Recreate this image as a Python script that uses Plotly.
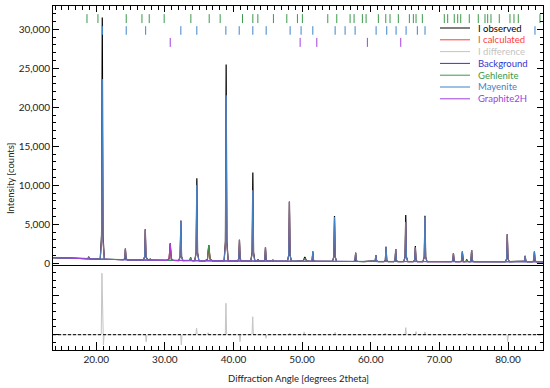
import numpy as np
import plotly.graph_objects as go

# ---------------- data ----------------
x_range = [13.7, 85.1]

# background knots (2theta, counts)
bg_x = [13.7, 16.0, 20.0, 25.0, 30.0, 35.5, 39.5, 49.0, 59.0, 70.0, 81.0, 85.1]
bg_y = [720, 640, 540, 440, 370, 320, 290, 250, 225, 210, 200, 195]

# diffraction peaks: position, observed top, calculated top, phase, half base width
peak_pos = [18.90, 20.88, 24.25, 27.15, 27.86, 30.78, 32.33, 33.75, 34.66, 36.40,
            38.93, 40.87, 42.82, 43.60, 44.66, 45.75, 48.15, 50.40, 51.56, 54.72,
            57.80, 60.75, 62.23, 63.64, 65.10, 66.50, 67.90, 72.05, 73.35, 74.00,
            74.70, 79.90, 82.50, 83.85]
peak_obs = [850, 31500, 1900, 4350, 550, 2550, 5450, 750, 10900, 2350,
            25500, 3000, 11650, 520, 2050, 420, 7900, 800, 1500, 6050,
            1350, 1050, 2130, 1830, 6200, 2220, 6100, 1280, 1490, 450,
            1700, 3720, 940, 1490]
peak_calc = [800, 23600, 1850, 4350, 520, 2500, 5450, 720, 10000, 2300,
             21500, 3000, 9350, 500, 2050, 400, 7900, 650, 1500, 5900,
             1350, 1050, 2100, 1800, 5300, 2000, 5900, 1280, 1490, 400,
             1700, 3720, 940, 1490]
peak_phase = ["G", "M", "M", "M", "G", "C", "M", "G", "M", "G",
              "M", "M", "M", "G", "M", "G", "M", "G", "M", "M",
              "M", "M", "M", "M", "M", "M", "M", "M", "M", "G",
              "M", "M", "M", "M"]
peak_w = [0.3, 0.3, 0.3, 0.3, 0.3, 0.45, 0.3, 0.3, 0.3, 0.55,
          0.3, 0.3, 0.3, 0.3, 0.3, 0.3, 0.3, 0.7, 0.3, 0.3,
          0.3, 0.3, 0.3, 0.3, 0.3, 0.3, 0.3, 0.3, 0.3, 0.5,
          0.3, 0.3, 0.3, 0.3]

# difference curve features (position, obs - calc)
diff_pos = [20.83, 21.05, 27.28, 32.40, 34.62, 36.30, 38.90, 40.95, 42.80, 44.75,
            48.20, 50.30, 54.80, 62.10, 65.10, 66.60, 67.90, 74.00, 79.95]
diff_val = [7870, -1300, -900, -1300, 850, 250, 4030, -900, 2300, -450,
            200, 350, 300, 200, 900, 400, 350, 200, -900]

# Bragg reflection positions
gehlenite_ticks = [18.65, 20.25, 24.37, 26.66, 27.72, 29.90, 33.79, 36.46, 38.06, 41.31,
                   42.82, 43.55, 45.82, 47.77, 49.32, 50.04, 53.74, 55.05, 56.99, 57.57,
                   58.78, 59.32, 61.11, 62.19, 62.81, 64.02, 65.63, 66.21, 66.60, 67.52,
                   70.72, 71.21, 72.17, 72.67, 73.11, 74.36, 75.67, 76.65, 77.04, 77.52,
                   78.73, 80.29, 80.87, 81.50, 84.66]
mayenite_ticks = [20.92, 24.37, 27.20, 32.33, 34.66, 38.89, 40.83, 42.82, 44.76, 48.25,
                  49.85, 51.56, 54.81, 56.26, 57.72, 60.78, 62.33, 63.69, 65.15, 66.79,
                  67.91, 83.93]
graphite_ticks = [30.78, 49.71, 52.14, 59.51, 64.37]

# ---------------- build curves ----------------
def bgv(x):
    return float(np.interp(x, bg_x, bg_y))

def profile(heights, phases=None):
    pts = []
    sel = [i for i in range(len(peak_pos)) if phases is None or peak_phase[i] in phases]
    for xk, yk in zip(bg_x, bg_y):
        if not any(abs(xk - peak_pos[i]) < peak_w[i] for i in sel):
            pts.append((xk, yk))
    for i in sel:
        p, h, w = peak_pos[i], heights[i], peak_w[i]
        bl, br, bc = bgv(p - w), bgv(p + w), bgv(p)
        pts += [(p - w, bl), (p - 0.35 * w, bc + 0.1 * (h - bc)), (p, h),
                (p + 0.35 * w, bc + 0.1 * (h - bc)), (p + w, br)]
    pts.sort(key=lambda t: t[0])
    return [t[0] for t in pts], [t[1] for t in pts]

def tick_trace(pos, y0, y1):
    xs, ys = [], []
    for p in pos:
        xs += [p, p, None]
        ys += [y0, y1, None]
    return xs, ys

C_OBS = "#000000"
C_CALC = "#ff3b3b"
C_DIFF = "#c4c4c4"
C_BG = "#3434d4"
C_GEH = "#3a9a4a"
C_MAY = "#3f84c8"
C_GRA = "#a040e0"

fig = go.Figure()
ox, oy = profile(peak_obs)
fig.add_trace(go.Scatter(x=ox, y=oy, mode="lines", line=dict(color=C_OBS, width=1.2),
                         xaxis="x2", yaxis="y2", name="I observed"))
cx, cy = profile(peak_calc)
fig.add_trace(go.Scatter(x=cx, y=cy, mode="lines", line=dict(color=C_CALC, width=1),
                         xaxis="x2", yaxis="y2", name="I calculated"))
fig.add_trace(go.Scatter(x=bg_x, y=bg_y, mode="lines", line=dict(color=C_BG, width=1),
                         xaxis="x2", yaxis="y2", name="Background"))
for ph, col, nm in [("M", C_MAY, "Mayenite"), ("G", C_GEH, "Gehlenite"), ("C", C_GRA, "Graphite2H")]:
    px_, py_ = profile(peak_calc, [ph])
    fig.add_trace(go.Scatter(x=px_, y=py_, mode="lines", line=dict(color=col, width=1),
                             xaxis="x2", yaxis="y2", name=nm))

for pos, col, y0, y1 in [(gehlenite_ticks, C_GEH, 30800, 31950),
                         (mayenite_ticks, C_MAY, 29300, 30400),
                         (graphite_ticks, C_GRA, 27750, 28900)]:
    tx, ty = tick_trace(pos, y0, y1)
    fig.add_trace(go.Scatter(x=tx, y=ty, mode="lines", line=dict(color=col, width=1),
                             xaxis="x2", yaxis="y2", hoverinfo="skip"))

# difference panel
dx, dy = [x_range[0]], [0]
for p, v in zip(diff_pos, diff_val):
    dx += [p - 0.1, p, p + 0.1]
    dy += [0, v, 0]
dx.append(x_range[1]); dy.append(0)
fig.add_trace(go.Scatter(x=dx, y=dy, mode="lines", line=dict(color=C_DIFF, width=1),
                         xaxis="x", yaxis="y", name="I difference"))
fig.add_trace(go.Scatter(x=x_range, y=[0, 0], mode="lines",
                         line=dict(color="#000000", width=1, dash="3px,2px"),
                         xaxis="x", yaxis="y", hoverinfo="skip"))

FONT = "Lato"
axis_common = dict(showline=True, linecolor="black", linewidth=1, showgrid=False,
                   zeroline=False, ticks="inside", tickcolor="black", automargin=False)

fig.update_layout(
    width=550, height=388, margin=dict(l=53, r=7, t=6, b=38),
    paper_bgcolor="white", plot_bgcolor="white", showlegend=False,
    font=dict(family=FONT, size=10, color="#222222"),
    xaxis=dict(domain=[0, 1], range=x_range, anchor="y", dtick=10, tick0=0, ticklen=8,
               tickformat=".2f", mirror=True,
               minor=dict(dtick=1, tick0=0, ticklen=4, ticks="inside", tickcolor="black"),
               **axis_common),
    xaxis2=dict(domain=[0, 1], range=x_range, anchor="y2", matches="x", side="top",
                dtick=10, tick0=0, ticklen=6, showticklabels=False, mirror=True,
                minor=dict(dtick=1, tick0=0, ticklen=4, ticks="inside", tickcolor="black"),
                **axis_common),
    yaxis=dict(domain=[0, 0.2442], range=[-1960, 8800], anchor="x", dtick=5000, tick0=0,
               ticklen=6, showticklabels=False, mirror="ticks",
               minor=dict(dtick=1000, tick0=0, ticklen=3, ticks="inside", tickcolor="black"),
               **axis_common),
    yaxis2=dict(domain=[0.2471, 1], range=[-220, 32990], anchor="x2", dtick=5000, tick0=0,
                ticklen=6, tickformat=",d", mirror="ticks",
                minor=dict(dtick=1000, tick0=0, ticklen=3, ticks="inside", tickcolor="black"),
                **axis_common),
)

# axis titles
fig.add_annotation(text="Intensity [counts]", xref="paper", yref="paper",
                   x=(10 - 53) / 490, y=(350 - 178) / 344, textangle=-90, showarrow=False,
                   xanchor="center", yanchor="middle",
                   font=dict(size=9.5, color="#222222"))
fig.add_annotation(text="Diffraction Angle [degrees 2theta]", xref="paper", yref="paper",
                   x=0.5, y=(350 - 378) / 344, yanchor="middle", showarrow=False,
                   font=dict(size=9.5, color="#222222"))

# manual legend
legend_items = [("I observed", C_OBS), ("I calculated", C_CALC), ("I difference", C_DIFF),
                ("Background", C_BG), ("Gehlenite", C_GEH), ("Mayenite", C_MAY),
                ("Graphite2H", C_GRA)]
for k, (nm, col) in enumerate(legend_items):
    py = 28 + k * 11.8
    yp = (350 - py) / 344
    fig.add_shape(type="line", xref="paper", yref="paper",
                  x0=(440 - 53) / 490, x1=(470 - 53) / 490, y0=yp, y1=yp,
                  line=dict(color=col, width=1))
    fig.add_annotation(text=nm, xref="paper", yref="paper", x=(476 - 53) / 490, y=yp,
                       xanchor="left", yanchor="middle", showarrow=False,
                       font=dict(size=9.5, color=col))

fig.write_html("out.html", config={"displayModeBar": False},
               post_script="document.body.style.margin='0';document.body.style.padding='0';"
                           "document.body.style.overflow='hidden';")
